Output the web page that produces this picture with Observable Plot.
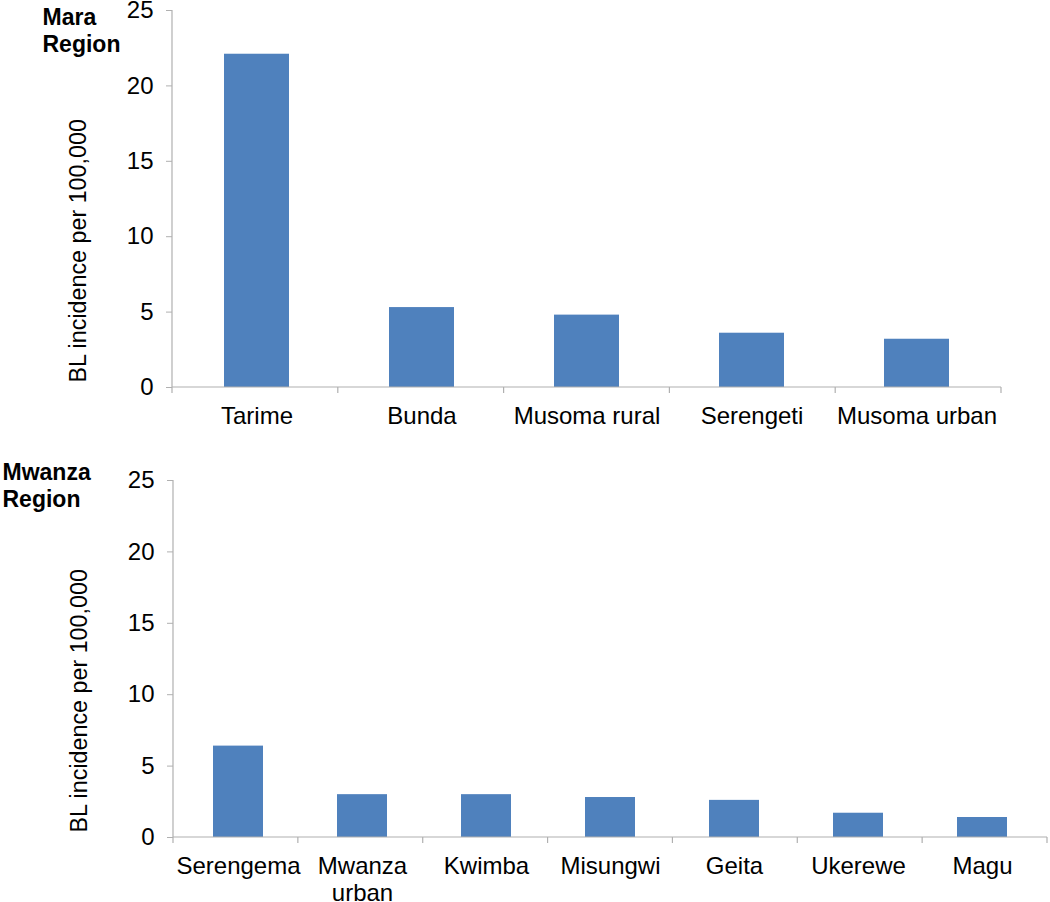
<!DOCTYPE html>
<html><head><meta charset="utf-8">
<script src="https://cdn.jsdelivr.net/npm/d3@7"></script>
<script src="https://cdn.jsdelivr.net/npm/@observablehq/plot@0.6"></script>
<style>
body{margin:0;background:#fff;font-family:"Liberation Sans",Arial,sans-serif}
#chart svg{display:block}
</style>
</head><body><div id="chart"></div>
<script>
const maraDistricts = ["Tarime", "Bunda", "Musoma rural", "Serengeti", "Musoma urban"];
const maraIncidence = [22.1, 5.3, 4.8, 3.6, 3.2];
const mwanzaDistricts = ["Serengema", "Mwanza\nurban", "Kwimba", "Misungwi", "Geita", "Ukerewe", "Magu"];
const mwanzaIncidence = [6.4, 3.0, 3.0, 2.8, 2.6, 1.7, 1.4];
const yTicks = [0, 5, 10, 15, 20, 25];
const yLabel = "BL incidence per 100,000";
const titles = ["Mara\nRegion", "Mwanza\nRegion"];

const barColor = "#4f81bd";
const axisColor = "#b0b0b0";
const FONT = "'Liberation Sans', Arial, sans-serif";

function panel(o) {
  const data = o.cats.map((c, i) => ({district: c, value: o.vals[i]}));
  const n = o.cats.length;
  const axisLines = (index, scales, values, dims) => {
    const g = d3.create("svg:g").attr("stroke", axisColor).attr("stroke-width", 1.2).attr("fill", "none");
    const y0 = scales.y(0);
    const left = dims.marginLeft, right = dims.width - dims.marginRight;
    g.append("line").attr("x1", left).attr("x2", left).attr("y1", scales.y(yTicks[yTicks.length - 1])).attr("y2", y0);
    g.append("line").attr("x1", left).attr("x2", right).attr("y1", y0).attr("y2", y0);
    for (let i = 0; i <= n; i++) {
      const x = left + (right - left) * i / n;
      g.append("line").attr("x1", x).attr("x2", x).attr("y1", y0).attr("y2", y0 + 6);
    }
    return g.node();
  };
  return Plot.plot({
    width: 1050,
    height: o.height,
    marginTop: o.marginTop,
    marginBottom: o.marginBottom,
    marginLeft: o.marginLeft,
    marginRight: o.marginRight,
    style: {fontFamily: FONT, fontSize: "24px", color: "#000", background: "#fff", overflow: "visible"},
    x: {domain: o.cats, paddingInner: o.pad, paddingOuter: o.pad / 2, label: null},
    y: {domain: [0, 25], label: null},
    marks: [
      Plot.barY(data, {x: "district", y: "value", fill: barColor}),
      axisLines,
      Plot.axisY(yTicks, {tickSize: 6, tickPadding: 13, stroke: axisColor, fontSize: 24, label: null}),
      Plot.axisX({tickSize: 0, tickPadding: 18, fontSize: 24, label: null, lineHeight: 1.1}),
      Plot.text([yLabel], {frameAnchor: "bottom-left", rotate: -90, textAnchor: "start", dx: -87, dy: -5, fontSize: 23.3, fill: "#000"}),
      Plot.text([o.title], {frameAnchor: "top-left", textAnchor: "start", lineAnchor: "top", dx: o.titleDx, dy: o.titleDy, fontSize: 23, fontWeight: "bold", lineHeight: 1.15, fill: "#000"})
    ]
  });
}

const chart = document.getElementById("chart");
chart.append(panel({
  cats: maraDistricts, vals: maraIncidence, title: titles[0],
  height: 455, marginTop: 10, marginBottom: 68, marginLeft: 172, marginRight: 49,
  pad: 0.608, titleDx: -130, titleDy: -4
}));
chart.append(panel({
  cats: mwanzaDistricts, vals: mwanzaIncidence, title: titles[1],
  height: 447, marginTop: 25, marginBottom: 65, marginLeft: 173, marginRight: 3,
  pad: 0.6, titleDx: -171, titleDy: -19
}));
</script>
</body></html>
